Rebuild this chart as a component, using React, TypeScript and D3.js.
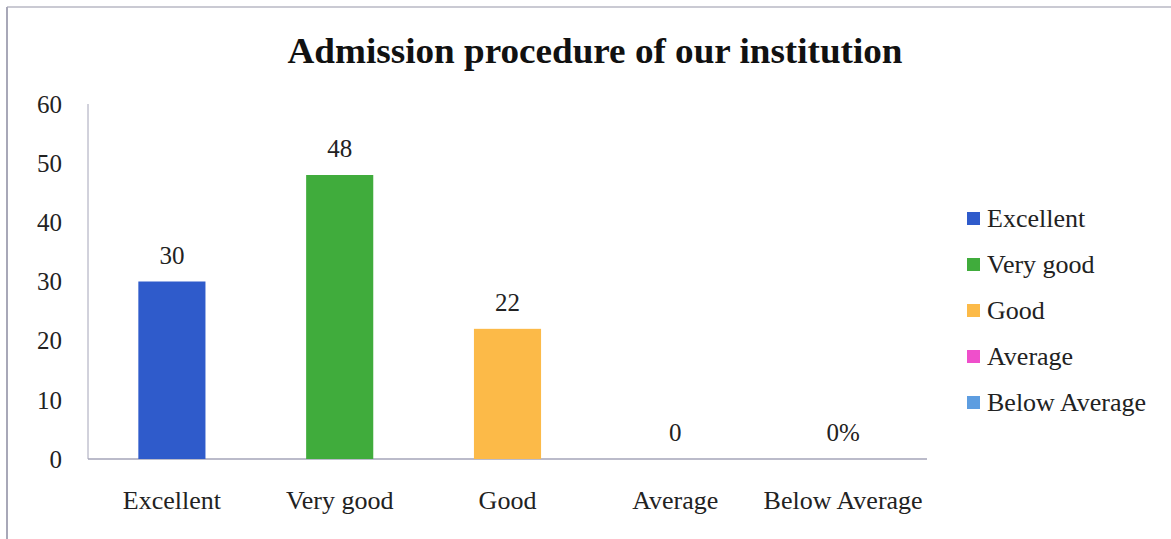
import React from "react";
import * as d3 from "d3";

const categories = ["Excellent", "Very good", "Good", "Average", "Below Average"];
const values = [30, 48, 22, 0, 0];
const valueLabels = ["30", "48", "22", "0", "0%"];
const colors = ["#2f5bcb", "#40ac3c", "#fcba48", "#ef4fcb", "#5d9de0"];
const yTicks = [0, 10, 20, 30, 40, 50, 60];
const title = "Admission procedure of our institution";

export default function App() {
  const W = 1171, H = 539;
  const left = 88, right = 927, top = 104, bottom = 459;
  const x = d3.scaleBand<string>().domain(categories).range([left, right]).paddingInner(0.6).paddingOuter(0.3);
  const y = d3.scaleLinear().domain([0, 60]).range([bottom, top]);
  const font = "'Liberation Serif', 'Times New Roman', serif";
  const axisColor = "#a4a4b8";
  const fs = 26;
  return (
    <svg width={W} height={H} style={{ position: "absolute", left: 0, top: 0, background: "#fff" }} fontFamily={font}>
      <rect x={0} y={0} width={W} height={H} fill="#fff" />
      <line x1={7} y1={7} x2={W} y2={7} stroke="#b8b8c4" strokeWidth={1.5} />
      <line x1={7} y1={7} x2={7} y2={H} stroke="#a8a8b8" strokeWidth={2} />
      <text x={595} y={63} textAnchor="middle" fontSize={35} fontWeight="bold" fill="#111" textLength={615} lengthAdjust="spacingAndGlyphs">{title}</text>
      <line x1={left} y1={top} x2={left} y2={bottom} stroke={axisColor} strokeWidth={1} />
      <line x1={left} y1={bottom} x2={right} y2={bottom} stroke={axisColor} strokeWidth={1.5} />
      {yTicks.map((t) => (
        <text key={t} x={62} y={y(t)} dy="0.35em" textAnchor="end" fontSize={fs - 1} fill="#222">{t}</text>
      ))}
      {categories.map((c, i) => {
        const bx = x(c)!;
        const bw = x.bandwidth();
        return (
          <g key={c}>
            <rect x={bx} y={y(values[i])} width={bw} height={bottom - y(values[i])} fill={colors[i]} />
            <text x={bx + bw / 2} y={y(values[i]) - 18} textAnchor="middle" fontSize={fs - 1} fill="#222">{valueLabels[i]}</text>
            <text x={bx + bw / 2} y={500} dy="0.35em" textAnchor="middle" fontSize={fs} fill="#222">{c}</text>
          </g>
        );
      })}
      {categories.map((c, i) => {
        const ly = 218 + i * 46;
        return (
          <g key={"lg" + c}>
            <rect x={967} y={ly - 6} width={13} height={13} fill={colors[i]} />
            <text x={987} y={ly} dy="0.35em" fontSize={fs} fill="#222">{c}</text>
          </g>
        );
      })}
    </svg>
  );
}
